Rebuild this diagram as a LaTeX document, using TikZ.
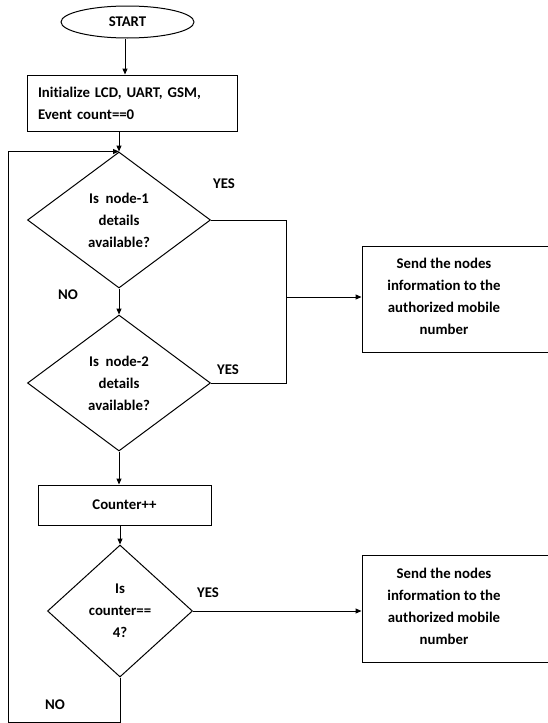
\documentclass[tikz,border=0pt]{standalone}
\usepackage{fontspec}
\setmainfont{Carlito}[Ligatures=NoCommon]
\usetikzlibrary{shapes.geometric,arrows.meta}
\begin{document}
\begin{tikzpicture}[x=1pt,y=-1pt,
  font=\bfseries\fontsize{14.8}{22}\selectfont,
  line width=1pt,
  arr/.style={-{Triangle[length=6pt,width=5pt]}},
  dec/.style={draw,diamond,inner sep=0pt,align=center},
  box/.style={draw,inner sep=0pt},
  lbl/.style={inner sep=0pt}]
\useasboundingbox (0,0) rectangle (547,723);
\node[draw,ellipse,minimum width=133pt,minimum height=32pt,inner sep=0pt] (start) at (127.5,22) {START};
\node[box,minimum width=210pt,minimum height=56pt,text width=188pt,align=left] (init) at (132,103) {Initialize LCD, UART, GSM,\\Event count==0};
\node[dec,minimum width=183pt,minimum height=136pt] (d1) at (119,220) {Is\ \ node-1\\details\\available?};
\node[dec,minimum width=183pt,minimum height=136pt] (d2) at (119,383) {Is\ \ node-2\\details\\available?};
\node[box,minimum width=173pt,minimum height=40pt] (cnt) at (124.5,505) {Counter++};
\node[dec,minimum width=145pt,minimum height=132pt] (d3) at (120,611) {Is\\counter==\\4?};
\node[box,minimum width=186pt,minimum height=106pt] (s1) at (455,299) {};
\node[lbl,align=center] (s1t) at (444,296) {Send the nodes\\information to the\\authorized mobile\\number};
\node[box,minimum width=186pt,minimum height=107pt] (s2) at (455,608.5) {};
\node[lbl,align=center] (s2t) at (444,606) {Send the nodes\\information to the\\authorized mobile\\number};
\node[lbl] (yes1) at (224,184) {YES};
\node[lbl] (yes2) at (228,370) {YES};
\node[lbl] (yes3) at (208,593) {YES};
\node[lbl] (no1) at (68,295) {NO};
\node[lbl] (no2) at (55,705) {NO};
\coordinate (mx) at (286,297);
\coordinate (bl) at (8,722);
\draw[arr] ([xshift=-2.5pt]start.south) -- ([xshift=-2.5pt]start.south |- init.north);
\draw[arr] (init.south -| d1.north) -- (d1.north);
\draw[arr] (d1.south) -- (d2.north);
\draw[arr] (d2.south) -- (d2.south |- cnt.north);
\draw[arr] (cnt.south -| d3.north) -- (d3.north);
\draw (d1.east) -| (mx);
\draw (d2.east) -| (mx);
\draw[arr] (mx) -- (s1.west |- mx);
\draw[arr] (d3.east) -- (s2.west |- d3.east);
\draw[arr] (d3.south) -- (d3.south |- bl) -- (bl) -- (bl |- d1.north) -- (d1.north);
\end{tikzpicture}
\end{document}
